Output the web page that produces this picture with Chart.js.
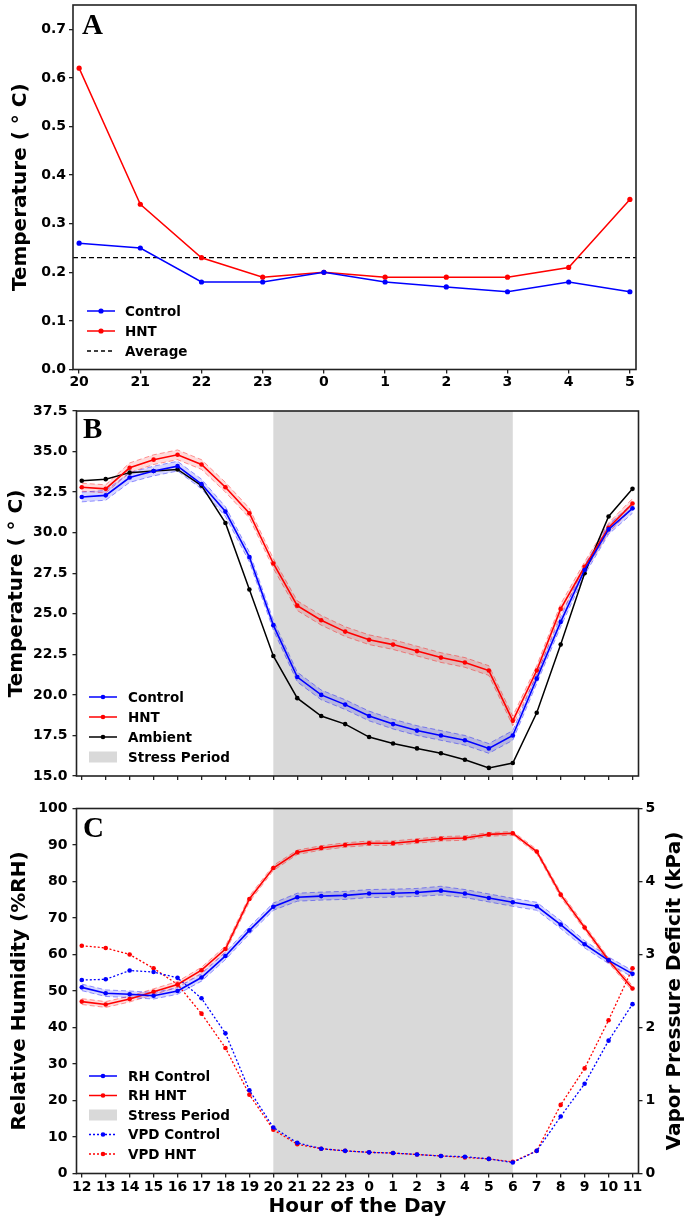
<!DOCTYPE html>
<html>
<head>
<meta charset="utf-8">
<script src="https://cdn.jsdelivr.net/npm/chart.js@4/dist/chart.umd.min.js"></script>
<style>
html,body{margin:0;padding:0;background:#fff;width:685px;height:1225px;overflow:hidden}
.wrap{position:absolute;left:0;width:685px}
canvas{display:block}
</style>
</head>
<body>
<div class="wrap" style="top:0;height:400px"><canvas id="cA" width="685" height="400"></canvas></div>
<div class="wrap" style="top:400px;height:400px"><canvas id="cB" width="685" height="400"></canvas></div>
<div class="wrap" style="top:800px;height:425px"><canvas id="cC" width="685" height="425"></canvas></div>
<script>
// ---------- Panel A data ----------
const hoursA = ['20','21','22','23','0','1','2','3','4','5'];
const controlA = [0.26,0.25,0.18,0.18,0.20,0.18,0.17,0.16,0.18,0.16];
const hntA = [0.62,0.34,0.23,0.19,0.20,0.19,0.19,0.19,0.21,0.35];
const averageA = 0.23;
const yTicksA = [0.0,0.1,0.2,0.3,0.4,0.5,0.6,0.7];

// ---------- Panels B & C shared hours ----------
const hours = ['12','13','14','15','16','17','18','19','20','21','22','23','0','1','2','3','4','5','6','7','8','9','10','11'];
const stressStart = '20';
const stressEnd = '6';

// ---------- Panel B data ----------
const tempControl = [32.2,32.3,33.4,33.8,34.1,33.0,31.3,28.5,24.3,21.1,20.0,19.4,18.7,18.2,17.8,17.5,17.2,16.7,17.5,21.0,24.5,27.7,30.2,31.5];
const tempControlErr = [0.3,0.3,0.3,0.3,0.3,0.3,0.3,0.3,0.3,0.3,0.3,0.3,0.3,0.3,0.3,0.3,0.3,0.3,0.3,0.3,0.3,0.3,0.3,0.3];
const tempHNT = [32.8,32.7,34.0,34.5,34.8,34.2,32.8,31.2,28.1,25.5,24.6,23.9,23.4,23.1,22.7,22.3,22.0,21.5,18.4,21.5,25.3,27.9,30.3,31.8];
const tempHNTErr = [0.25,0.25,0.3,0.3,0.3,0.3,0.3,0.3,0.3,0.3,0.3,0.3,0.3,0.3,0.3,0.3,0.3,0.3,0.3,0.3,0.3,0.3,0.3,0.3];
const tempAmbient = [33.2,33.3,33.7,33.8,33.9,32.9,30.6,26.5,22.4,19.8,18.7,18.2,17.4,17.0,16.7,16.4,16.0,15.5,15.8,18.9,23.1,27.5,31.0,32.7];
const yTicksB = [15.0,17.5,20.0,22.5,25.0,27.5,30.0,32.5,35.0,37.5];

// ---------- Panel C data ----------
const rhControl = [51.0,49.4,49.1,48.7,50.0,53.7,59.6,66.6,73.1,75.7,76.0,76.2,76.7,76.8,77.0,77.5,76.7,75.5,74.3,73.2,68.2,62.8,58.4,54.7];
const rhControlErr = [0.9,0.9,0.9,0.9,0.9,1.0,1.0,1.0,1.0,1.1,1.1,1.1,1.1,1.1,1.1,1.2,1.1,1.1,1.1,1.1,1.1,1.0,0.9,0.9];
const rhHNT = [47.1,46.3,47.8,49.8,51.8,55.7,61.5,75.2,83.7,88.0,89.2,90.0,90.5,90.5,91.1,91.7,91.9,92.9,93.2,88.2,76.4,67.4,58.4,50.7];
const rhHNTErr = [0.8,0.8,0.8,0.8,0.8,0.8,0.8,0.8,0.7,0.6,0.6,0.6,0.6,0.6,0.6,0.6,0.6,0.5,0.5,0.6,0.7,0.7,0.7,0.7];
const vpdControl = [2.65,2.66,2.78,2.76,2.68,2.40,1.92,1.14,0.63,0.42,0.34,0.31,0.29,0.28,0.26,0.24,0.23,0.20,0.15,0.31,0.78,1.23,1.82,2.32];
const vpdHNT = [3.12,3.09,3.00,2.81,2.59,2.19,1.72,1.08,0.60,0.40,0.34,0.31,0.29,0.28,0.26,0.24,0.22,0.20,0.16,0.31,0.94,1.44,2.10,2.81];
const yTicksRH = [0,10,20,30,40,50,60,70,80,90,100];
const yTicksVPD = [0,1,2,3,4,5];

// ---------- helpers ----------
const BLUE = '#0000ff', RED = '#ff0000', BLACK = '#000000';
const tickFont = {family:'"DejaVu Sans"', size:14, weight:'bold'};
const titleFont = {family:'"DejaVu Sans"', size:20, weight:'bold', lineHeight:1.0};
const xy = arr => arr.map((v,i)=>({x:i,y:v}));
const plusErr = (a,e) => a.map((v,i)=>({x:i,y:v+e[i]}));
const minusErr = (a,e) => a.map((v,i)=>({x:i,y:v-e[i]}));

const frameBox = {
  id:'frameBox',
  afterDatasetsDraw(chart){
    const {ctx, chartArea:a} = chart;
    ctx.save(); ctx.strokeStyle='#222'; ctx.lineWidth=1.6;
    ctx.strokeRect(a.left, a.top, a.right-a.left, a.bottom-a.top);
    ctx.restore();
  }
};
const stressShade = {
  id:'stressShade',
  beforeDatasetsDraw(chart, args, o){
    if (o.from === undefined) return;
    const {ctx, chartArea:a} = chart; const x = chart.scales.x;
    const x0 = x.getPixelForValue(o.from), x1 = x.getPixelForValue(o.to);
    ctx.save(); ctx.fillStyle = o.color; ctx.fillRect(x0, a.top, x1-x0, a.bottom-a.top); ctx.restore();
  }
};
const panelLegend = {
  id:'panelLegend',
  afterDraw(chart, args, o){
    if (!o.items) return;
    const ctx = chart.ctx;
    ctx.save();
    o.items.forEach((it,i)=>{
      const y = o.y + i*o.dy;
      if (it.type === 'patch') {
        ctx.fillStyle = it.color; ctx.fillRect(o.x, y-5.5, 28, 11);
      } else {
        ctx.strokeStyle = it.color; ctx.lineWidth = it.width || 1.5;
        ctx.setLineDash(it.dash || []);
        ctx.beginPath(); ctx.moveTo(o.x, y); ctx.lineTo(o.x+28, y); ctx.stroke();
        ctx.setLineDash([]);
        if (it.marker) { ctx.fillStyle = it.color; ctx.beginPath(); ctx.arc(o.x+14, y, it.marker, 0, Math.PI*2); ctx.fill(); }
      }
      ctx.fillStyle = '#000'; ctx.font = 'bold 13.5px "DejaVu Sans"'; ctx.textBaseline = 'middle'; ctx.textAlign='left';
      ctx.fillText(it.label, o.x + o.textGap, y + 1);
    });
    ctx.restore();
  }
};
const panelLetter = {
  id:'panelLetter',
  afterDraw(chart, args, o){
    if (!o.text) return;
    const ctx = chart.ctx;
    ctx.save(); ctx.fillStyle='#000'; ctx.font='bold 29px "Liberation Serif"'; ctx.textBaseline='alphabetic'; ctx.textAlign='left';
    ctx.fillText(o.text, o.x, o.y); ctx.restore();
  }
};
const rightTitle = {
  id:'rightTitle',
  afterDraw(chart, args, o){
    if (!o.text) return;
    const {ctx, chartArea:a} = chart;
    ctx.save(); ctx.fillStyle='#000'; ctx.font='bold 20px "DejaVu Sans"'; ctx.textAlign='center'; ctx.textBaseline='middle';
    ctx.translate(o.x, (a.top+a.bottom)/2); ctx.rotate(-Math.PI/2); ctx.fillText(o.text, 0, 0); ctx.restore();
  }
};

const gridOpts = {drawOnChartArea:false, drawTicks:true, tickLength:4, color:'#222', tickColor:'#222', lineWidth:1.3};
const commonPlugins = [frameBox, stressShade, panelLegend, panelLetter, rightTitle];

function lineDS(data, color, radius, extra){
  return Object.assign({data, borderColor:color, backgroundColor:color, pointBackgroundColor:color,
    pointBorderWidth:0, pointRadius:radius, borderWidth:1.6, tension:0, fill:false}, extra||{});
}
function bandDS(upper, lower, edge, fillCol){
  return [
    {data:upper, borderColor:edge, borderWidth:1, borderDash:[5,3], pointRadius:0, fill:'+1', backgroundColor:fillCol, tension:0},
    {data:lower, borderColor:edge, borderWidth:1, borderDash:[5,3], pointRadius:0, fill:false, tension:0}
  ];
}

// ---------- Panel A ----------
new Chart(document.getElementById('cA'), {
  type:'line',
  data:{datasets:[
    lineDS(xy(controlA), BLUE, 2.6, {borderWidth:1.5}),
    lineDS(xy(hntA), RED, 2.6, {borderWidth:1.5}),
    {data:[{x:-0.1,y:averageA},{x:9.1,y:averageA}], borderColor:'#000', borderWidth:1.3, borderDash:[5,3], pointRadius:0, fill:false}
  ]},
  options:{
    responsive:false, animation:false, events:[],
    layout:{padding:{left:0,right:49,top:5,bottom:0}},
    scales:{
      x:{type:'linear', min:-0.1, max:9.1,
        afterBuildTicks:s=>{ s.ticks = hoursA.map((h,i)=>({value:i})); },
        ticks:{callback:v=>hoursA[v], font:tickFont, color:'#000', padding:0, autoSkip:false, maxRotation:0, minRotation:0},
        grid:gridOpts, border:{display:false},
        afterFit:s=>{ s.height=30.5; s.paddingLeft=0; s.paddingRight=0; }},
      y:{min:0, max:0.75,
        afterBuildTicks:s=>{ s.ticks = yTicksA.map(v=>({value:v})); },
        ticks:{callback:v=>v.toFixed(1), font:tickFont, color:'#000', padding:3},
        grid:gridOpts, border:{display:false},
        title:{display:true, text:'Temperature ( ° C)', font:titleFont, color:'#000', padding:{top:11,bottom:0}},
        afterFit:s=>{ s.width=73; s.paddingTop=0; s.paddingBottom=0; }}
    },
    plugins:{
      legend:{display:false}, tooltip:{enabled:false},
      panelLetter:{text:'A', x:82, y:34},
      panelLegend:{x:87, y:311, dy:20, textGap:38, items:[
        {label:'Control', color:BLUE, marker:2.6},
        {label:'HNT', color:RED, marker:2.6},
        {label:'Average', color:'#000', dash:[4,3], width:1.3}
      ]}
    }
  },
  plugins:commonPlugins
});

// ---------- Panel B ----------
new Chart(document.getElementById('cB'), {
  type:'line',
  data:{datasets:[
    lineDS(xy(tempControl), BLUE, 2.3),
    lineDS(xy(tempHNT), RED, 2.3),
    lineDS(xy(tempAmbient), BLACK, 2.3, {borderWidth:1.5}),
    ...bandDS(plusErr(tempControl,tempControlErr), minusErr(tempControl,tempControlErr), 'rgba(0,0,255,0.4)', 'rgba(0,0,255,0.16)'),
    ...bandDS(plusErr(tempHNT,tempHNTErr), minusErr(tempHNT,tempHNTErr), 'rgba(255,0,0,0.4)', 'rgba(255,0,0,0.14)')
  ]},
  options:{
    responsive:false, animation:false, events:[],
    layout:{padding:{left:0,right:46.5,top:11,bottom:0}},
    scales:{
      x:{type:'linear', min:-0.22, max:23.25,
        afterBuildTicks:s=>{ s.ticks = hours.map((h,i)=>({value:i})); },
        ticks:{display:false},
        grid:gridOpts, border:{display:false},
        afterFit:s=>{ s.height=24; s.paddingLeft=0; s.paddingRight=0; }},
      y:{min:15, max:37.5,
        afterBuildTicks:s=>{ s.ticks = yTicksB.map(v=>({value:v})); },
        ticks:{callback:v=>v.toFixed(1), font:tickFont, color:'#000', padding:5},
        grid:gridOpts, border:{display:false},
        title:{display:true, text:'Temperature ( ° C)', font:titleFont, color:'#000', padding:{top:7,bottom:0}},
        afterFit:s=>{ s.width=76.5; s.paddingTop=0; s.paddingBottom=0; }}
    },
    plugins:{
      legend:{display:false}, tooltip:{enabled:false},
      stressShade:{from:hours.indexOf(stressStart), to:hours.indexOf(stressEnd), color:'#d9d9d9'},
      panelLetter:{text:'B', x:83, y:38},
      panelLegend:{x:89, y:297, dy:20, textGap:39, items:[
        {label:'Control', color:BLUE, marker:2.3},
        {label:'HNT', color:RED, marker:2.3},
        {label:'Ambient', color:BLACK, marker:2.3},
        {label:'Stress Period', type:'patch', color:'#d9d9d9'}
      ]}
    }
  },
  plugins:commonPlugins
});

// ---------- Panel C ----------
new Chart(document.getElementById('cC'), {
  type:'line',
  data:{datasets:[
    lineDS(xy(rhControl), BLUE, 2.3, {yAxisID:'y'}),
    lineDS(xy(rhHNT), RED, 2.3, {yAxisID:'y'}),
    lineDS(xy(vpdControl), BLUE, 2.3, {yAxisID:'y2', borderDash:[2,2], borderWidth:1.3}),
    lineDS(xy(vpdHNT), RED, 2.3, {yAxisID:'y2', borderDash:[2,2], borderWidth:1.3}),
    ...bandDS(plusErr(rhControl,rhControlErr), minusErr(rhControl,rhControlErr), 'rgba(0,0,255,0.4)', 'rgba(0,0,255,0.16)').map(d=>Object.assign(d,{yAxisID:'y'})),
    ...bandDS(plusErr(rhHNT,rhHNTErr), minusErr(rhHNT,rhHNTErr), 'rgba(255,0,0,0.4)', 'rgba(255,0,0,0.14)').map(d=>Object.assign(d,{yAxisID:'y'}))
  ]},
  options:{
    responsive:false, animation:false, events:[],
    layout:{padding:{left:0,right:0,top:8.5,bottom:0}},
    scales:{
      x:{type:'linear', min:-0.22, max:23.25,
        afterBuildTicks:s=>{ s.ticks = hours.map((h,i)=>({value:i})); },
        ticks:{callback:v=>hours[v], font:tickFont, color:'#000', padding:1, autoSkip:false, maxRotation:0, minRotation:0},
        grid:gridOpts, border:{display:false},
        title:{display:true, text:'Hour of the Day', font:titleFont, color:'#000', padding:{top:0,bottom:8}},
        afterFit:s=>{ s.height=51.5; s.paddingLeft=0; s.paddingRight=0; }},
      y:{position:'left', min:0, max:100,
        afterBuildTicks:s=>{ s.ticks = yTicksRH.map(v=>({value:v})); },
        ticks:{callback:v=>String(v), font:tickFont, color:'#000', padding:5},
        grid:gridOpts, border:{display:false},
        title:{display:true, text:'Relative Humidity (%RH)', font:titleFont, color:'#000', padding:{top:10,bottom:0}},
        afterFit:s=>{ s.width=76.5; s.paddingTop=0; s.paddingBottom=0; }},
      y2:{position:'right', min:0, max:5,
        afterBuildTicks:s=>{ s.ticks = yTicksVPD.map(v=>({value:v})); },
        ticks:{callback:v=>String(v), font:tickFont, color:'#000', padding:3},
        grid:gridOpts, border:{display:false},
        afterFit:s=>{ s.width=46.5; s.paddingTop=0; s.paddingBottom=0; }}
    },
    plugins:{
      legend:{display:false}, tooltip:{enabled:false},
      stressShade:{from:hours.indexOf(stressStart), to:hours.indexOf(stressEnd), color:'#d9d9d9'},
      panelLetter:{text:'C', x:83, y:37},
      rightTitle:{text:'Vapor Pressure Deficit (kPa)', x:675},
      panelLegend:{x:89, y:276, dy:19.5, textGap:39, items:[
        {label:'RH Control', color:BLUE, marker:2.3},
        {label:'RH HNT', color:RED, marker:2.3},
        {label:'Stress Period', type:'patch', color:'#d9d9d9'},
        {label:'VPD Control', color:BLUE, marker:2.3, dash:[2,2], width:1.3},
        {label:'VPD HNT', color:RED, marker:2.3, dash:[2,2], width:1.3}
      ]}
    }
  },
  plugins:commonPlugins
});
</script>
</body>
</html>
